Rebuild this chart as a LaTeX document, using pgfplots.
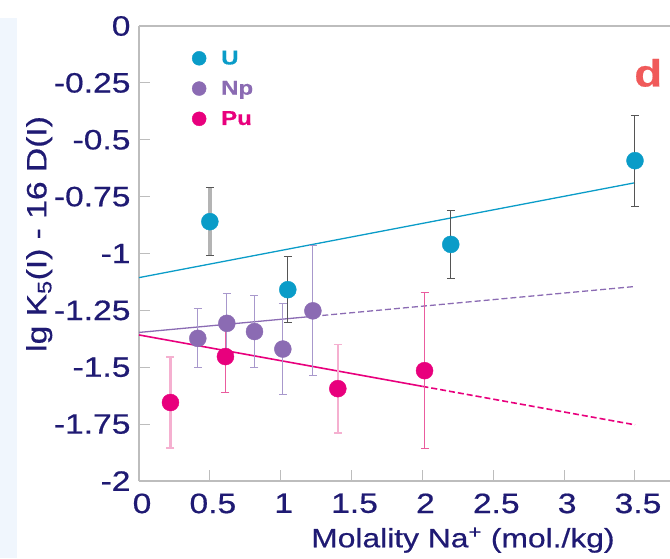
\documentclass[border=0pt]{standalone}
\usepackage{pgfplots}
\pgfplotsset{compat=1.18}
\usepackage{fontspec}
\setmainfont{Liberation Sans}[FakeStretch=1.2, FakeBold=0.6]
\definecolor{ucol}{HTML}{0A9CC8}
\definecolor{npcol}{HTML}{8B6BB3}
\definecolor{pucol}{HTML}{E8007D}
\definecolor{uerr}{HTML}{555555}
\definecolor{uerrl}{HTML}{B4B4B4}
\definecolor{nperr}{HTML}{A898CC}
\definecolor{puerr}{HTML}{F5B0D0}
\definecolor{puerrd}{HTML}{EA5C9E}
\definecolor{txtcol}{HTML}{1F1A73}
\definecolor{axcol}{HTML}{BDBDBD}
\definecolor{dcol}{HTML}{F05A5A}
\definecolor{stripcol}{HTML}{F0F6FD}
\begin{document}
\begin{tikzpicture}[x=1pt,y=1pt]
\useasboundingbox (0,0) rectangle (670,558);
\fill[stripcol] (0,0) rectangle (17,540);
\begin{axis}[
  at={(139pt,77pt)}, anchor=south west,
  scale only axis, width=531pt, height=455pt,
  xmin=0, xmax=3.747, ymin=-2, ymax=0,
  axis x line=box, axis y line=left,
  axis line style={-, draw=axcol, line width=1.3pt},
  xtick={0,0.5,...,3.5}, ytick={-2,-1.75,...,0},
  yticklabels={-2,-1.75,-1.5,-1.25,-1,-0.75,-0.5,-0.25,0},
  xticklabels={0,0.5,1,1.5,2,2.5,3,3.5},
  xtick pos=bottom, ytick pos=left,
  tick align=inside, major tick length=11pt,
  tick style={draw=axcol, line width=1pt},
  ticklabel style={font=\fontsize{28}{33}\selectfont, text=txtcol},
  yticklabel style={xshift=-5pt},
  xticklabel style={yshift=-9pt, xshift=3pt},
  xlabel={Molality Na\textsuperscript{+} (mol./kg)},
  ylabel={lg K\textsubscript{5}(I) - 16 D(I)},
  label style={text=txtcol},
  xlabel style={font=\fontsize{26.5}{31}\selectfont, at={(axis description cs:0.610,-0.130)}, anchor=center},
  ylabel style={font=\fontsize{28}{33}\selectfont, at={(axis description cs:-0.188,0.543)}, anchor=center},
  clip=false,
  legend style={draw=none, fill=none, at={(axis description cs:0.096,0.955)}, anchor=north west,
    font=\bfseries\fontsize{20}{24}\selectfont, row sep=11pt, inner sep=2pt,
    /tikz/every odd column/.append style={column sep=13pt}},
  legend cell align=left,
  legend image post style={mark size=7pt},
]
% fit lines
\addplot[ucol, line width=1.3pt, forget plot] coordinates {(0,-1.106) (3.5,-0.689)};
\addplot[npcol, line width=1.3pt, forget plot] coordinates {(0,-1.347) (1.23,-1.276)};
\addplot[npcol, line width=1.3pt, dash pattern=on 6pt off 3pt, forget plot] coordinates {(1.23,-1.276) (3.5,-1.145)};
\addplot[pucol, line width=1.6pt, forget plot] coordinates {(0,-1.358) (2,-1.584)};
\addplot[pucol, line width=1.6pt, dash pattern=on 6pt off 3pt, forget plot] coordinates {(2,-1.584) (3.5,-1.753)};
% U first point thick grey error bar
\addplot[only marks, mark=*, mark size=8.5pt, mark options={draw=ucol, fill=ucol}, forget plot,
  error bars/.cd, y dir=both, y explicit,
  error bar style={color=uerrl, line width=3.5pt},
  error mark options={rotate=90, mark size=4pt, color=uerr, line width=1pt}]
  coordinates {(0.5,-0.86) +- (0,0.15)};
% U
\addplot[only marks, mark=*, mark size=8.5pt, mark options={draw=ucol, fill=ucol},
  error bars/.cd, y dir=both, y explicit,
  error bar style={color=uerr, line width=1pt},
  error mark options={rotate=90, mark size=4pt, color=uerr, line width=1pt}]
  coordinates {(1.05,-1.159) +- (0,0.145) (2.2,-0.96) +- (0,0.15) (3.5,-0.592) +- (0,0.2)};
\addlegendentry{\textcolor{ucol}{U}}
% Np
\addplot[only marks, mark=*, mark size=8.5pt, mark options={draw=npcol, fill=npcol},
  error bars/.cd, y dir=both, y explicit,
  error bar style={color=nperr, line width=1pt},
  error mark options={rotate=90, mark size=4pt, color=nperr, line width=1pt}]
  coordinates {(0.415,-1.373) +- (0,0.13) (0.62,-1.307) +- (0,0.13) (0.815,-1.343) +- (0,0.16)
               (1.015,-1.42) +- (0,0.2) (1.227,-1.252) +- (0,0.286)};
\addlegendentry{\textcolor{npcol}{Np}}
% Pu (pale thick error bars)
\addplot[only marks, mark=*, mark size=8.5pt, mark options={draw=pucol, fill=pucol},
  error bars/.cd, y dir=both, y explicit,
  error bar style={color=puerr, line width=2.2pt},
  error mark options={rotate=90, mark size=4pt, color=puerr, line width=1.2pt}]
  coordinates {(0.222,-1.655) +- (0,0.2) (1.403,-1.594) +- (0,0.195)};
\addlegendentry{\textcolor{pucol}{Pu}}
% Pu (thin error bars)
\addplot[only marks, mark=*, mark size=8.5pt, mark options={draw=pucol, fill=pucol}, forget plot,
  error bars/.cd, y dir=both, y explicit,
  error bar style={color=puerrd, line width=0.9pt},
  error mark options={rotate=90, mark size=4pt, color=puerrd, line width=1pt}]
  coordinates {(0.61,-1.453) +- (0,0.16) (2.015,-1.515) +- (0,0.343)};
\node[text=dcol, font=\bfseries\fontsize{38}{44}\selectfont] at (axis description cs:0.959,0.897) {d};
\end{axis}
\end{tikzpicture}
\end{document}
